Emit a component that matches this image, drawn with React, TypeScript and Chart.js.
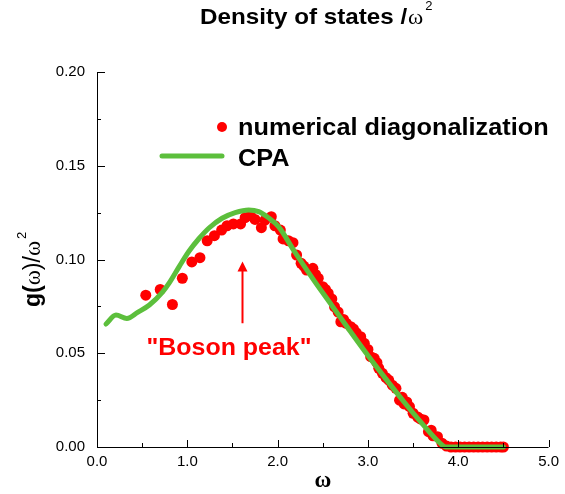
import React, { useEffect, useRef } from 'react';
import { Chart, registerables } from 'chart.js';

Chart.register(...registerables);

// CPA curve (green line)
const cpaOmega = [0.10, 0.21, 0.33, 0.45, 0.58, 0.725, 0.80, 0.91, 1.02, 1.13, 1.24, 1.385, 1.53, 1.68, 1.79, 1.90, 2.01, 2.19, 2.40, 2.60, 2.80, 3.00, 3.20, 3.40, 3.60, 3.80, 3.86, 4.20, 4.50];
const cpaG = [0.0656, 0.0704, 0.0686, 0.0718, 0.0757, 0.0826, 0.0875, 0.0962, 0.1045, 0.1112, 0.1168, 0.1220, 0.1250, 0.1264, 0.1255, 0.1222, 0.1175, 0.1040, 0.0890, 0.0755, 0.0620, 0.0488, 0.0362, 0.0240, 0.0125, 0.0020, 0.0, 0.0, 0.0];

// Numerical diagonalization (red dots)
const numOmega = [0.54, 0.70, 0.835, 0.945, 1.05, 1.14, 1.22, 1.30, 1.38, 1.44, 1.51, 1.59, 1.64, 1.70, 1.75, 1.82, 1.86, 1.93, 1.97, 2.03, 2.06, 2.12, 2.17, 2.21, 2.26, 2.29, 2.32, 2.39, 2.42, 2.45, 2.50, 2.53, 2.56, 2.60, 2.63, 2.67, 2.70, 2.73, 2.76, 2.81, 2.84, 2.87, 2.92, 2.96, 3.00, 3.03, 3.07, 3.10, 3.12, 3.16, 3.20, 3.23, 3.27, 3.31, 3.35, 3.38, 3.40, 3.43, 3.46, 3.50, 3.55, 3.58, 3.62, 3.67, 3.70, 3.72, 3.77, 3.82, 3.87, 3.92, 3.97, 4.02, 4.07, 4.12, 4.17, 4.22, 4.27, 4.32, 4.37, 4.42, 4.47, 4.50];
const numG = [0.0810, 0.0840, 0.0760, 0.0900, 0.0987, 0.1010, 0.1100, 0.1127, 0.1157, 0.1180, 0.1190, 0.1190, 0.1223, 0.1234, 0.1214, 0.1170, 0.1210, 0.1228, 0.1180, 0.1157, 0.1110, 0.1100, 0.1090, 0.1024, 0.0980, 0.0965, 0.0944, 0.0953, 0.0920, 0.0900, 0.0855, 0.0840, 0.0820, 0.0790, 0.0748, 0.0720, 0.0668, 0.0680, 0.0660, 0.0642, 0.0630, 0.0610, 0.0588, 0.0553, 0.0520, 0.0482, 0.0473, 0.0450, 0.0420, 0.0393, 0.0370, 0.0357, 0.0330, 0.0313, 0.0250, 0.0265, 0.0230, 0.0240, 0.0215, 0.0180, 0.0160, 0.0150, 0.0144, 0.0082, 0.0090, 0.0060, 0.0055, 0.0020, 0.0005, 0.0, 0.0, 0.0, 0.0, 0.0, 0.0, 0.0, 0.0, 0.0, 0.0, 0.0, 0.0, 0.0];

// Axis ticks
const xMajorTicks = [0, 1, 2, 3, 4, 5];
const xMinorTicks = [0.5, 1.5, 2.5, 3.5, 4.5];
const yMajorTicks = [0, 0.05, 0.1, 0.15, 0.2];
const yMinorTicks = [0.025, 0.075, 0.125, 0.175];

// Texts
const titleText = 'Density of states /';
const legendNum = 'numerical diagonalization';
const legendCpa = 'CPA';
const annotationText = '"Boson peak"';
const arrowOmega = 1.6;
const arrowFromG = 0.066;
const arrowToG = 0.099;

const SANS = '"Liberation Sans", Arial, sans-serif';
const SERIF = '"Liberation Serif", "Times New Roman", serif';
const RED = '#ff0000';
const GREEN = '#5cbf3c';

function txt(ctx: CanvasRenderingContext2D, s: string, x: number, y: number, font: string, color: string, sx = 1): number {
  ctx.save();
  ctx.font = font;
  ctx.fillStyle = color;
  ctx.textBaseline = 'alphabetic';
  ctx.textAlign = 'left';
  const w = ctx.measureText(s).width * sx;
  ctx.translate(x, y);
  ctx.scale(sx, 1);
  ctx.fillText(s, 0, 0);
  ctx.restore();
  return w;
}

const decorPlugin = {
  id: 'decor',
  afterDraw(chart: any) {
    const ctx: CanvasRenderingContext2D = chart.ctx;
    const xs = chart.scales.x;
    const ys = chart.scales.y;
    const x0 = xs.getPixelForValue(0);
    const x5 = xs.getPixelForValue(5);
    const y0 = ys.getPixelForValue(0);
    const y2 = ys.getPixelForValue(0.2);
    ctx.save();
    ctx.strokeStyle = '#000';
    ctx.lineWidth = 1;
    ctx.beginPath();
    ctx.moveTo(Math.round(x0) + 0.5, y2);
    ctx.lineTo(Math.round(x0) + 0.5, Math.round(y0) + 0.5);
    ctx.lineTo(x5, Math.round(y0) + 0.5);
    ctx.stroke();
    ctx.beginPath();
    for (const v of yMajorTicks) {
      const p = Math.round(ys.getPixelForValue(v)) + 0.5;
      ctx.moveTo(x0, p); ctx.lineTo(x0 + 8, p);
    }
    for (const v of yMinorTicks) {
      const p = Math.round(ys.getPixelForValue(v)) + 0.5;
      ctx.moveTo(x0, p); ctx.lineTo(x0 + 4, p);
    }
    for (const v of xMajorTicks) {
      const p = Math.round(xs.getPixelForValue(v)) + 0.5;
      ctx.moveTo(p, y0); ctx.lineTo(p, y0 - 7);
    }
    for (const v of xMinorTicks) {
      const p = Math.round(xs.getPixelForValue(v)) + 0.5;
      ctx.moveTo(p, y0); ctx.lineTo(p, y0 - 4);
    }
    ctx.stroke();
    ctx.restore();

    // Title
    let tx = 200;
    tx += txt(ctx, titleText, tx, 24, `bold 22px ${SANS}`, '#000', 1.1);
    tx += 1;
    tx += txt(ctx, 'ω', tx, 24, `22px ${SERIF}`, '#000', 1.05);
    txt(ctx, '2', tx + 2, 10, `13px ${SANS}`, '#000', 1);

    // Y-axis title (rotated)
    ctx.save();
    ctx.translate(40, 307);
    ctx.rotate(-Math.PI / 2);
    let rx = 0;
    rx += txt(ctx, 'g(', rx, 0, `bold 23px ${SANS}`, '#000');
    rx += txt(ctx, 'ω', rx, 0, `23px ${SERIF}`, '#000');
    rx += txt(ctx, ')/', rx, 0, `23px ${SANS}`, '#000');
    rx += txt(ctx, 'ω', rx, 0, `23px ${SERIF}`, '#000');
    txt(ctx, '2', rx + 2, -14, `13px ${SANS}`, '#000');
    ctx.restore();

    // X-axis title
    ctx.save();
    ctx.font = `bold 23px ${SERIF}`;
    const ww = ctx.measureText('ω').width;
    ctx.restore();
    txt(ctx, 'ω', (x0 + x5) / 2 - ww / 2, 487, `bold 23px ${SERIF}`, '#000');

    // Legend
    ctx.save();
    ctx.fillStyle = RED;
    ctx.beginPath();
    ctx.arc(222, 127, 5, 0, Math.PI * 2);
    ctx.fill();
    ctx.strokeStyle = GREEN;
    ctx.lineWidth = 5;
    ctx.lineCap = 'round';
    ctx.beginPath();
    ctx.moveTo(162, 156);
    ctx.lineTo(222, 156);
    ctx.stroke();
    ctx.restore();
    txt(ctx, legendNum, 238, 135, `bold 23px ${SANS}`, '#000', 1.1);
    txt(ctx, legendCpa, 238, 166, `bold 23px ${SANS}`, '#000', 1.1);

    // Annotation arrow
    const ax = Math.round(xs.getPixelForValue(arrowOmega)) + 0.5;
    const ayFrom = ys.getPixelForValue(arrowFromG);
    const ayTo = ys.getPixelForValue(arrowToG);
    ctx.save();
    ctx.strokeStyle = RED;
    ctx.fillStyle = RED;
    ctx.lineWidth = 2;
    ctx.beginPath();
    ctx.moveTo(ax, ayFrom);
    ctx.lineTo(ax, ayTo + 8);
    ctx.stroke();
    ctx.beginPath();
    ctx.moveTo(ax, ayTo);
    ctx.lineTo(ax - 5, ayTo + 10);
    ctx.lineTo(ax + 5, ayTo + 10);
    ctx.closePath();
    ctx.fill();
    ctx.restore();
    ctx.save();
    ctx.font = `bold 24px ${SANS}`;
    const aw = ctx.measureText(annotationText).width * 1.04;
    ctx.restore();
    txt(ctx, annotationText, 229 - aw / 2, 355, `bold 24px ${SANS}`, RED, 1.04);
  },
};

export default function App() {
  const ref = useRef<HTMLCanvasElement>(null);
  useEffect(() => {
    document.body.style.margin = '0';
    const canvas = ref.current!;
    const chart = new Chart(canvas, {
      type: 'scatter',
      data: {
        datasets: [
          {
            label: legendCpa,
            data: cpaOmega.map((x, i) => ({ x, y: cpaG[i] })),
            showLine: true,
            borderColor: GREEN,
            backgroundColor: GREEN,
            borderWidth: 5,
            pointRadius: 0,
            cubicInterpolationMode: 'monotone',
            borderCapStyle: 'round',
            borderJoinStyle: 'round',
            order: 0,
            clip: false,
          } as any,
          {
            label: legendNum,
            data: numOmega.map((x, i) => ({ x, y: numG[i] })),
            showLine: false,
            pointRadius: 5.5,
            pointBorderWidth: 0,
            backgroundColor: RED,
            borderColor: RED,
            order: 1,
            clip: false,
          } as any,
        ],
      },
      options: {
        responsive: false,
        animation: false,
        devicePixelRatio: 1,
        layout: { padding: { left: 0, right: 13, top: 72, bottom: 0 } },
        plugins: {
          legend: { display: false },
          title: { display: false },
          tooltip: { enabled: false },
        },
        scales: {
          x: {
            type: 'linear',
            min: 0,
            max: 5,
            grid: { display: false, drawTicks: false },
            border: { display: false },
            ticks: {
              stepSize: 1,
              padding: 6,
              color: '#000',
              font: { family: SANS, size: 15 },
              maxRotation: 0,
              callback: (v: any) => Number(v).toFixed(1),
            },
            afterFit: (s: any) => { s.height = 47; },
          },
          y: {
            type: 'linear',
            min: 0,
            max: 0.2,
            grid: { display: false, drawTicks: false },
            border: { display: false },
            ticks: {
              stepSize: 0.05,
              padding: 12,
              color: '#000',
              font: { family: SANS, size: 15 },
              callback: (v: any) => Number(v).toFixed(2),
            },
            afterFit: (s: any) => { s.width = 97; },
          },
        },
      },
      plugins: [decorPlugin],
    });
    return () => chart.destroy();
  }, []);
  return <canvas ref={ref} width={565} height={494} style={{ display: 'block', width: 565, height: 494 }} />;
}
